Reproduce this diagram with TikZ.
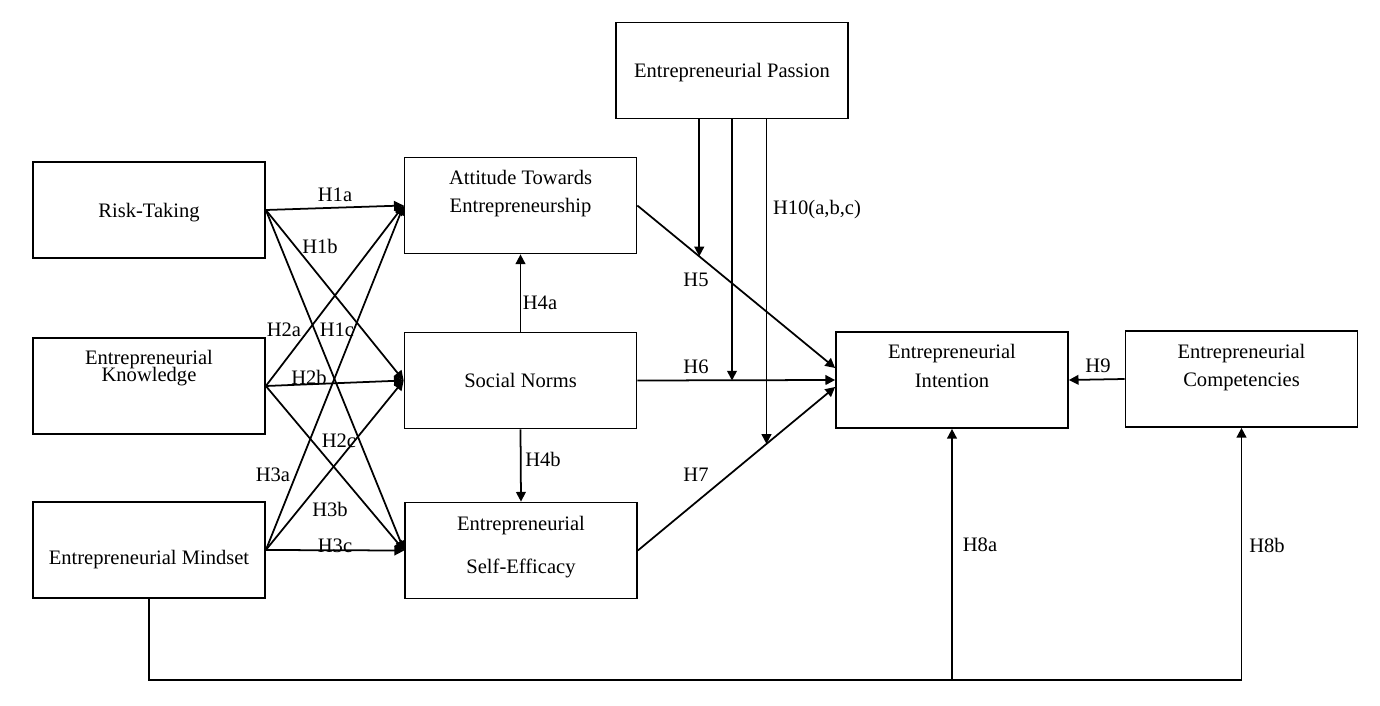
\documentclass[tikz,border=0pt]{standalone}
\usepackage{fontspec}
\setmainfont{Liberation Serif}
\usepackage{tikz}
\usetikzlibrary{arrows.meta,calc}

\tikzset{
  box/.style={draw,line width=1pt,minimum width=4.64cm,minimum height=1.92cm,align=center,text height=8pt,text depth=0pt},
  arr/.style={line width=1pt,-{Triangle[length=5.5pt,width=5.5pt]}},
  hyp/.style={inner sep=0pt},
}

\begin{document}
\begin{tikzpicture}[x=0.02cm,y=-0.02cm,font=\fontsize{11.7}{16}\selectfont]
  \useasboundingbox (0,0) rectangle (1380,706);
  % constructs
  \node[box] (risk) at (149,210) {Risk-Taking};
  \node[box,text height=0pt,text depth=4.6pt] (know) at (149,386) {Entrepreneurial\\[-5.8pt]Knowledge};
  \node[box,text height=17pt] (mind) at (149,550) {Entrepreneurial Mindset};
  \node[box] (att) at (520.5,205.5) {Attitude Towards\\Entrepreneurship};
  \node[box] (norm) at (520.5,380.5) {Social Norms};
  \node[box,text height=26.7pt] (eff) at (521,550.5) {Entrepreneurial\\[9pt]Self-Efficacy};
  \node[box] (pas) at (732,70.5) {Entrepreneurial Passion};
  \node[box] (int) at (952,380) {Entrepreneurial\\Intention};
  \node[box,text height=8.8pt] (comp) at (1241.5,379) {Entrepreneurial\\Competencies};

  % direct paths
  \foreach \s in {risk,know,mind}
    \foreach \t in {att,norm,eff}
      \draw[arr] (\s.east) -- (\t.west);
  \draw[arr] (norm.north) -- (att.south);
  \draw[arr] (norm.south) -- (eff.north);
  \coordinate (t5) at ($(int.west)+(0,-12)$);
  \coordinate (t7) at ($(int.west)+(0,7)$);
  \draw[arr] (att.east) -- (t5);
  \draw[arr] (norm.east) -- (int.west);
  \draw[arr] (eff.east) -- (t7);
  \draw[arr] (comp.west) -- (int.east);

  % moderation by passion
  \coordinate (m5) at ($(att.east)!0.313!(t5)$);
  \coordinate (m7) at ($(eff.east)!0.652!(t7)$);
  \draw[arr] (pas.south -| m5) -- (m5);
  \draw[arr] (pas.south) -- (pas.south |- norm.east);
  \draw[arr] (pas.south -| m7) -- (m7);

  % mindset to intention and competencies
  \coordinate (bot) at (0,680);
  \draw[arr] (mind.south) |- (bot -| comp.south) -- (comp.south);
  \draw[arr] (bot -| int.south) -- (int.south);

  % hypothesis labels
  \foreach \n/\x/\y in {H1a/335/195,H1b/320/246,H1c/337/330,H2a/284/330,H2b/309/377,
      H2c/339/441,H3a/273/475,H3b/330/509,H3c/335/546,H4a/540/303,H4b/543/459,
      H5/696/280,H6/696/367,H7/696/475,H8a/980/545,H8b/1267/545,H9/1098/366}
    \node[hyp] (\n) at (\x,\y) {\n};
  \node[hyp] (h10) at (817,210) {H10(a,b,c)};
\end{tikzpicture}
\end{document}
